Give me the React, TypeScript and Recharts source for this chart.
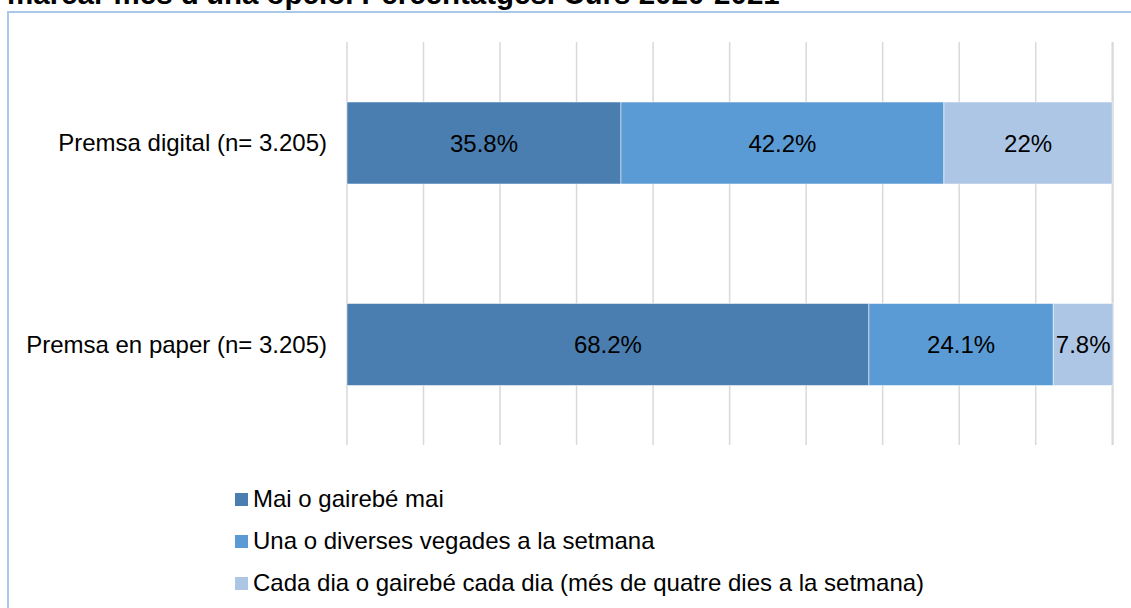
import { Bar, BarChart, CartesianGrid, LabelList, Legend, XAxis, YAxis } from "recharts"

const categories = ["Premsa digital (n= 3.205)", "Premsa en paper (n= 3.205)"]
const mai = [35.8, 68.2]
const setmana = [42.2, 24.1]
const cadaDia = [22, 7.8]
const xTicks = [0, 10, 20, 30, 40, 50, 60, 70, 80, 90, 100]

const seriesInfo = [
    { key: "mai", name: "Mai o gairebé mai", color: "#4A7EB0" },
    { key: "setmana", name: "Una o diverses vegades a la setmana", color: "#5B9BD5" },
    { key: "cadaDia", name: "Cada dia o gairebé cada dia (més de quatre dies a la setmana)", color: "#ADC6E6" },
]

const data = categories.map((name, i) => ({
    name,
    mai: mai[i],
    setmana: setmana[i],
    cadaDia: cadaDia[i],
}))

const font = "'Liberation Sans', Arial, sans-serif"

const LegendBox = () => (
    <div style={{ fontFamily: font, fontSize: 24, color: "#000" }}>
        {seriesInfo.map((s) => (
            <div key={s.key} style={{ display: "flex", alignItems: "center", height: 42, whiteSpace: "nowrap" }}>
                <span style={{ width: 13, height: 13, background: s.color, marginRight: 5, display: "inline-block", flexShrink: 0 }} />
                <span>{s.name}</span>
            </div>
        ))}
    </div>
)

const App = () => {
    return <div style={{ position: "fixed", left: 0, top: 0, width: 1131, height: 608, overflow: "hidden", background: "#fff" }}>
        <div style={{ position: "absolute", left: 7, top: -21, fontFamily: font, fontWeight: "bold", fontSize: 29.5, lineHeight: "29.5px", whiteSpace: "nowrap", color: "#000" }}>
            marcar més d'una opció. Percentatges. Curs 2020-2021
        </div>
        <div style={{ position: "absolute", left: 7, top: 11, width: 1300, height: 800, border: "2px solid #A9C9E9", boxSizing: "border-box" }} />
        <div style={{ position: "absolute", left: 0, top: 0 }}>
            <BarChart
                width={1131}
                height={608}
                layout="vertical"
                data={data}
                margin={{ top: 42, right: 18, bottom: 163, left: 0 }}
            >
                <CartesianGrid horizontal={false} stroke="#D9D9D9" strokeWidth={1.5} />
                <XAxis
                    type="number"
                    domain={[0, 100]}
                    ticks={xTicks}
                    interval={0}
                    tick={{ fontSize: 1, fill: "none" }}
                    axisLine={false}
                    tickLine={false}
                    height={0}
                />
                <YAxis
                    type="category"
                    dataKey="name"
                    width={347}
                    axisLine={false}
                    tickLine={false}
                    tickSize={0}
                    tickMargin={20}
                    tick={{ fill: "#000", fontSize: 24, fontFamily: font }}
                />
                <Legend
                    layout="vertical"
                    align="center"
                    verticalAlign="middle"
                    wrapperStyle={{ left: 235, top: 478, width: 850, height: 130 }}
                    content={() => <LegendBox />}
                />
                {seriesInfo.map((s) => (
                    <Bar
                        key={s.key}
                        dataKey={s.key}
                        name={s.name}
                        stackId="a"
                        fill={s.color}
                        stroke="#ffffff"
                        strokeOpacity={0.5}
                        strokeWidth={1}
                        barSize={82}
                        isAnimationActive={false}
                    >
                        <LabelList
                            dataKey={s.key}
                            position="center"
                            formatter={(v: any) => `${v}%`}
                            fill="#000"
                            fontSize={24}
                            fontFamily={font}
                        />
                    </Bar>
                ))}
            </BarChart>
        </div>
    </div>
}

export default App
